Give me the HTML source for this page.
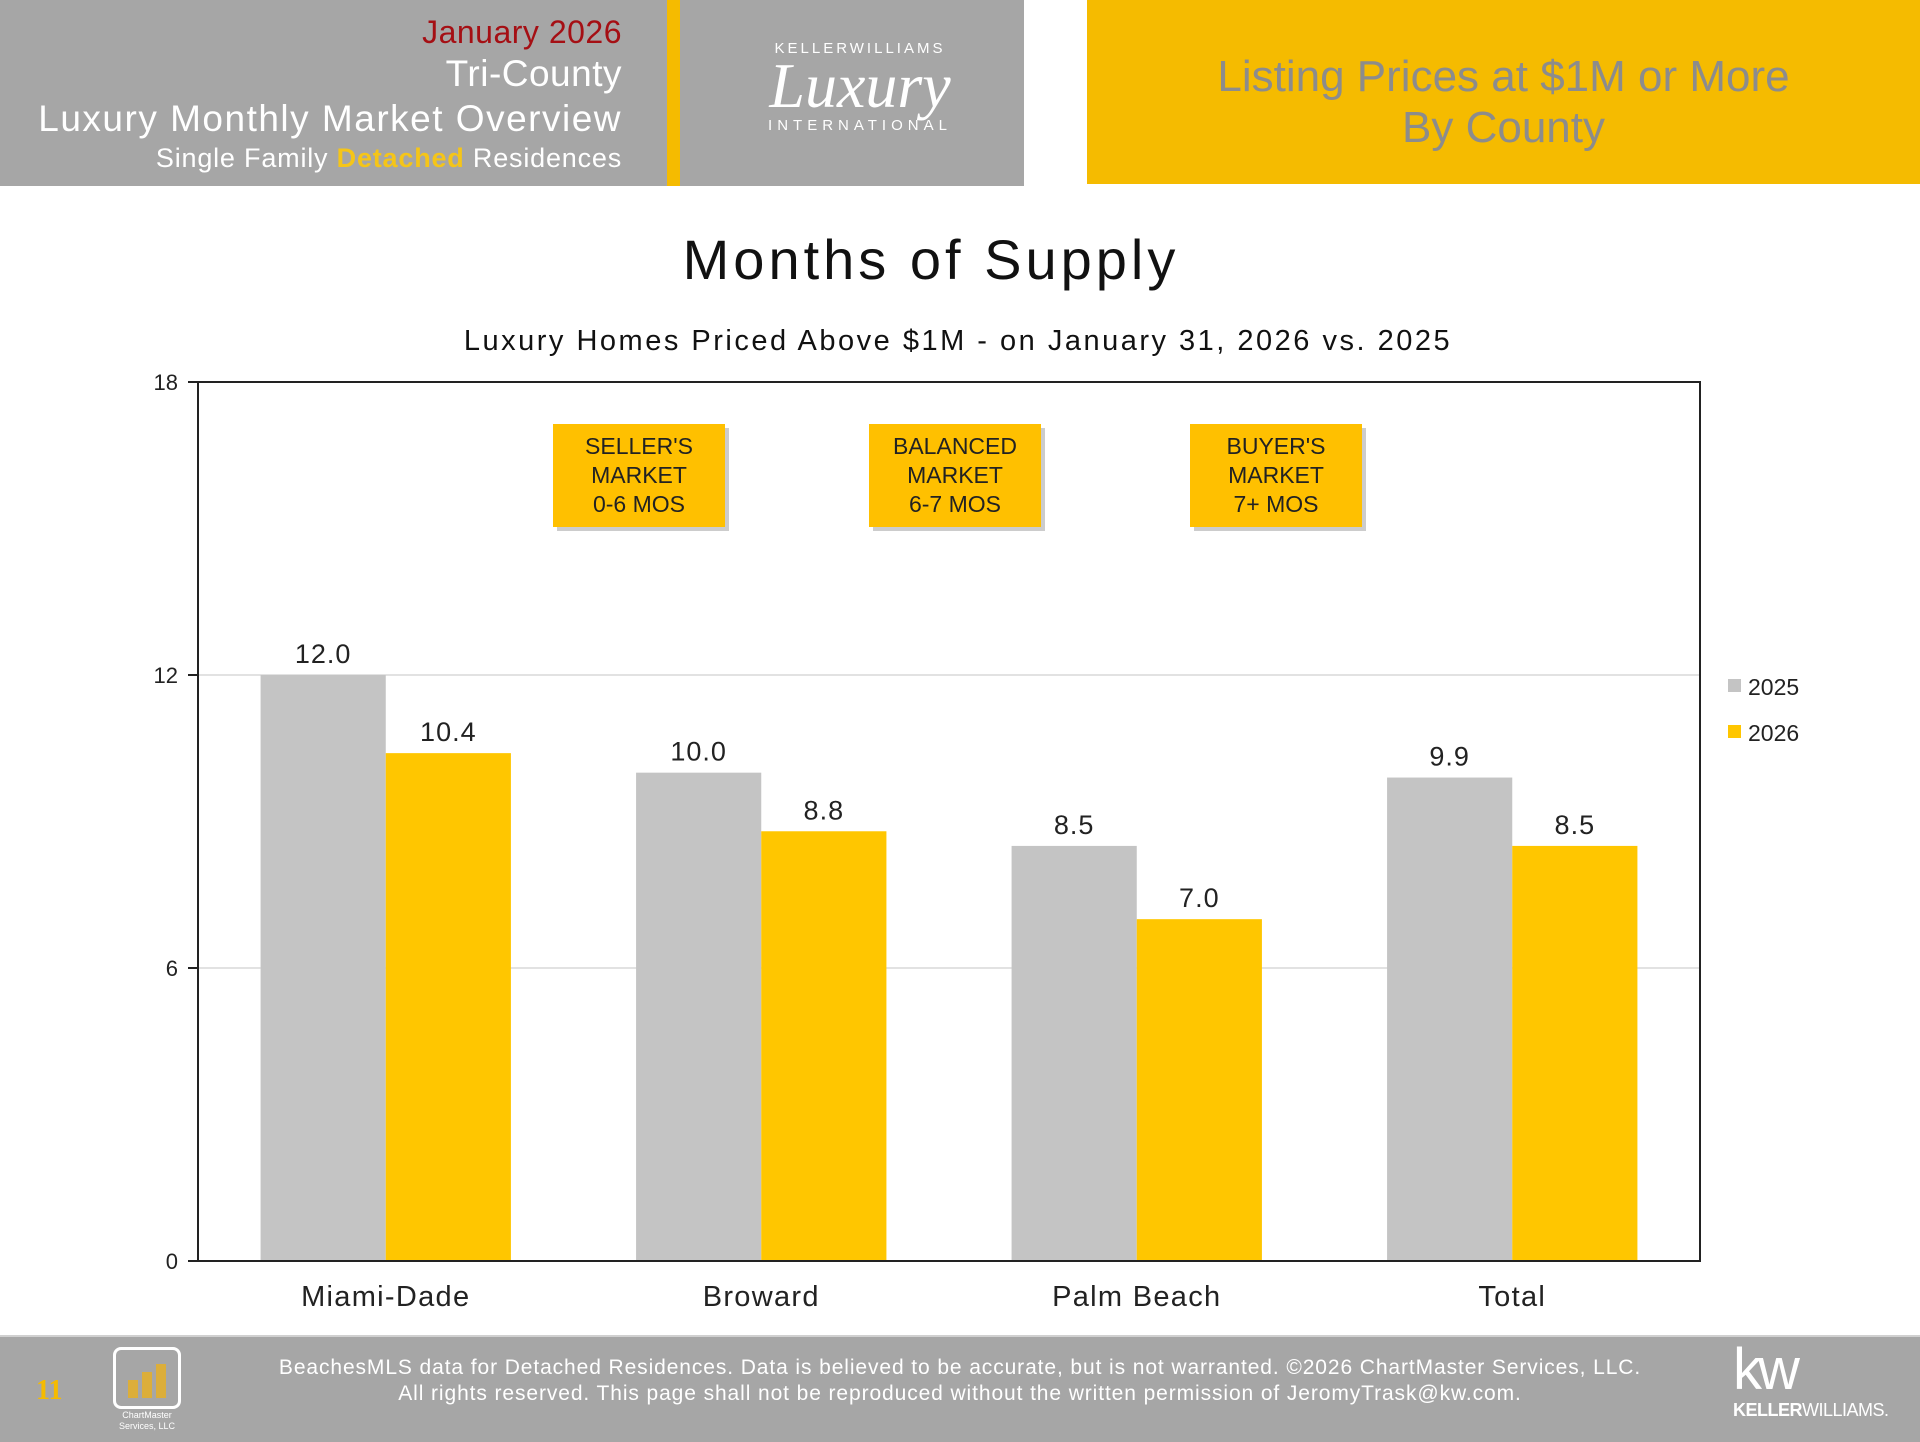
<!DOCTYPE html>
<html><head><meta charset="utf-8"><style>
body{margin:0;width:1920px;height:1440px;overflow:hidden;background:#fff;font-family:"Liberation Sans","DejaVu Sans",sans-serif;position:relative}
.abs{position:absolute}
</style></head><body>
<div class="abs" style="left:0;top:0;width:1024px;height:186px;background:#a6a6a6"></div>
<div class="abs" style="left:667px;top:0;width:13px;height:186px;background:#f5bb00"></div>
<div class="abs" style="right:1298px;top:14px;font-size:32px;color:#a50f14;white-space:nowrap;letter-spacing:0.5px">January 2026</div>
<div class="abs" style="right:1298px;top:53px;font-size:37px;color:#fff;white-space:nowrap;letter-spacing:0.5px">Tri-County</div>
<div class="abs" style="right:1298px;top:98px;font-size:37px;color:#fff;white-space:nowrap;letter-spacing:1.5px">Luxury Monthly Market Overview</div>
<div class="abs" style="right:1298px;top:143px;font-size:27px;color:#fff;white-space:nowrap;letter-spacing:0.8px">Single Family <b style="color:#f5c518">Detached</b> Residences</div>
<div class="abs" style="left:690px;top:40px;width:340px;text-align:center;color:#fff">
 <div style="font-size:15px;letter-spacing:3px">KELLERWILLIAMS</div>
 <div style="font-family:'Liberation Serif',serif;font-style:italic;font-size:64px;line-height:62px;margin-top:-2px">Luxury</div>
 <div style="font-size:15px;letter-spacing:5px">INTERNATIONAL</div>
</div>
<div class="abs" style="left:1087px;top:0;width:833px;height:184px;background:#f5bb00;color:#8c8c8c;text-align:center;font-size:44px;line-height:51px">
 <div style="padding-top:51px">Listing Prices at $1M or More<br>By County</div>
</div>

<svg class="abs" style="left:0;top:0" width="1920" height="1330">
 <text x="931" y="279" text-anchor="middle" font-size="56" fill="#111" letter-spacing="4">Months of Supply</text>
 <text x="958" y="350" text-anchor="middle" font-size="29" fill="#111" letter-spacing="2.5">Luxury Homes Priced Above $1M - on January 31,  2026 vs. 2025</text>
 <g id="grid"></g><g id="bars"></g><g id="labels"></g>
 <rect x="198" y="382" width="1502" height="879" fill="none" stroke="#222" stroke-width="2"/>
 <g id="notes"></g><g id="legend"></g>
</svg>

<div class="abs" style="left:0;top:1335px;width:1920px;height:105px;background:#a6a6a6;border-top:2px solid #d0d0d0"></div>
<div class="abs" style="left:36px;top:1375px;font-family:'Liberation Serif',serif;font-size:28px;font-weight:bold;color:#f5bb00">11</div>
<div class="abs" style="left:113px;top:1347px;width:68px;height:62px;border:3px solid #fff;border-radius:8px;box-sizing:border-box">
 <div style="position:absolute;left:12px;bottom:8px;width:10px;height:18px;background:#dcae3a"></div>
 <div style="position:absolute;left:26px;bottom:8px;width:10px;height:26px;background:#dcae3a"></div>
 <div style="position:absolute;left:40px;bottom:8px;width:10px;height:34px;background:#dcae3a"></div>
</div>
<div class="abs" style="left:108px;top:1410px;width:78px;text-align:center;font-size:9px;color:#fff;line-height:11px">ChartMaster<br>Services, LLC</div>
<div class="abs" style="left:160px;top:1355px;width:1600px;text-align:center;font-size:21px;line-height:26px;color:#fff;letter-spacing:0.9px">BeachesMLS data for Detached Residences.  Data is believed to be accurate, but is not warranted.   ©2026  ChartMaster Services, LLC.<br>All rights reserved. This page shall not be reproduced without the written permission of JeromyTrask@kw.com.</div>
<div class="abs" style="left:1733px;top:1340px;color:#fff;text-align:left">
 <div style="font-size:58px;line-height:60px;letter-spacing:-4px">kw</div>
 <div style="font-size:18px;letter-spacing:-0.5px"><b>KELLER</b>WILLIAMS.</div>
</div>

<script>
const categories=["Miami-Dade","Broward","Palm Beach","Total"];
const series2025=[12.0,10.0,8.5,9.9];
const series2026=[10.4,8.8,7.0,8.5];
const yTicks=[0,6,12,18];
const seriesNames=["2025","2026"];
const NS="http://www.w3.org/2000/svg";
const L=198,R=1700,T=382,B=1261,yMax=18;
const y=v=>B-(v/yMax)*(B-T);
const gw=(R-L)/categories.length, bw=gw/3;
const xs=i=>L+gw*i+gw/2;
function mk(tag,attrs,parent,txt){const e=document.createElementNS(NS,tag);for(const k in attrs)e.setAttribute(k,attrs[k]);if(txt!==undefined)e.textContent=txt;parent.appendChild(e);return e;}
const grid=document.getElementById('grid'),bars=document.getElementById('bars'),labels=document.getElementById('labels');
yTicks.forEach(t=>{
 if(t>0&&t<yMax){const g=mk('line',{x1:L,x2:R,y1:y(t),y2:y(t),stroke:'#d9d9d9','stroke-width':1.5},grid);
 
 }
 const tk=mk('line',{x1:L-10,x2:L,y1:y(t),y2:y(t),stroke:'#222','stroke-width':2},grid);
 
 
 const tl=mk('text',{x:L-20,y:y(t)+8,'text-anchor':'end','font-size':22,fill:'#222'},grid,String(t));
 
 
});
const colors=['#c4c4c4','#ffc600'];
[series2025,series2026].forEach((s,si)=>{
 s.forEach((v,i)=>{
  const x=xs(i)-bw+si*bw;
  const r=mk('rect',{x:x,y:y(v),width:bw,height:B-y(v),fill:colors[si]},bars);
  
  
  const t=mk('text',{x:x+bw/2,y:y(v)-12,'text-anchor':'middle','font-size':27,fill:'#222','letter-spacing':1},labels,v.toFixed(1));
  
  
 });
});
categories.forEach((c,i)=>{
 const t=mk('text',{x:xs(i),y:1306,'text-anchor':'middle','font-size':29,fill:'#222','letter-spacing':1.3},labels,c);
 
 
});
const notes=[["SELLER'S","MARKET","0-6 MOS",553],["BALANCED","MARKET","6-7 MOS",869],["BUYER'S","MARKET","7+ MOS",1190]];
const ng=document.getElementById('notes');
notes.forEach(n=>{
 const g=mk('g',{},ng);
 
 
 mk('rect',{x:n[3]+4,y:428,width:172,height:103,fill:'#999',opacity:0.5},g);
 mk('rect',{x:n[3],y:424,width:172,height:103,fill:'#ffc000'},g);
 [0,1,2].forEach(k=>mk('text',{x:n[3]+86,y:454+k*29,'text-anchor':'middle','font-size':23,fill:'#222'},g,n[k]));
});
const lg=document.getElementById('legend');
seriesNames.forEach((n,i)=>{
 const g=mk('g',{},lg);
 
 
 mk('rect',{x:1728,y:679+i*46,width:13,height:13,fill:colors[i]},g);
 mk('text',{x:1748,y:695+i*46,'font-size':23,fill:'#222'},g,n);
});
</script>
</body></html>
